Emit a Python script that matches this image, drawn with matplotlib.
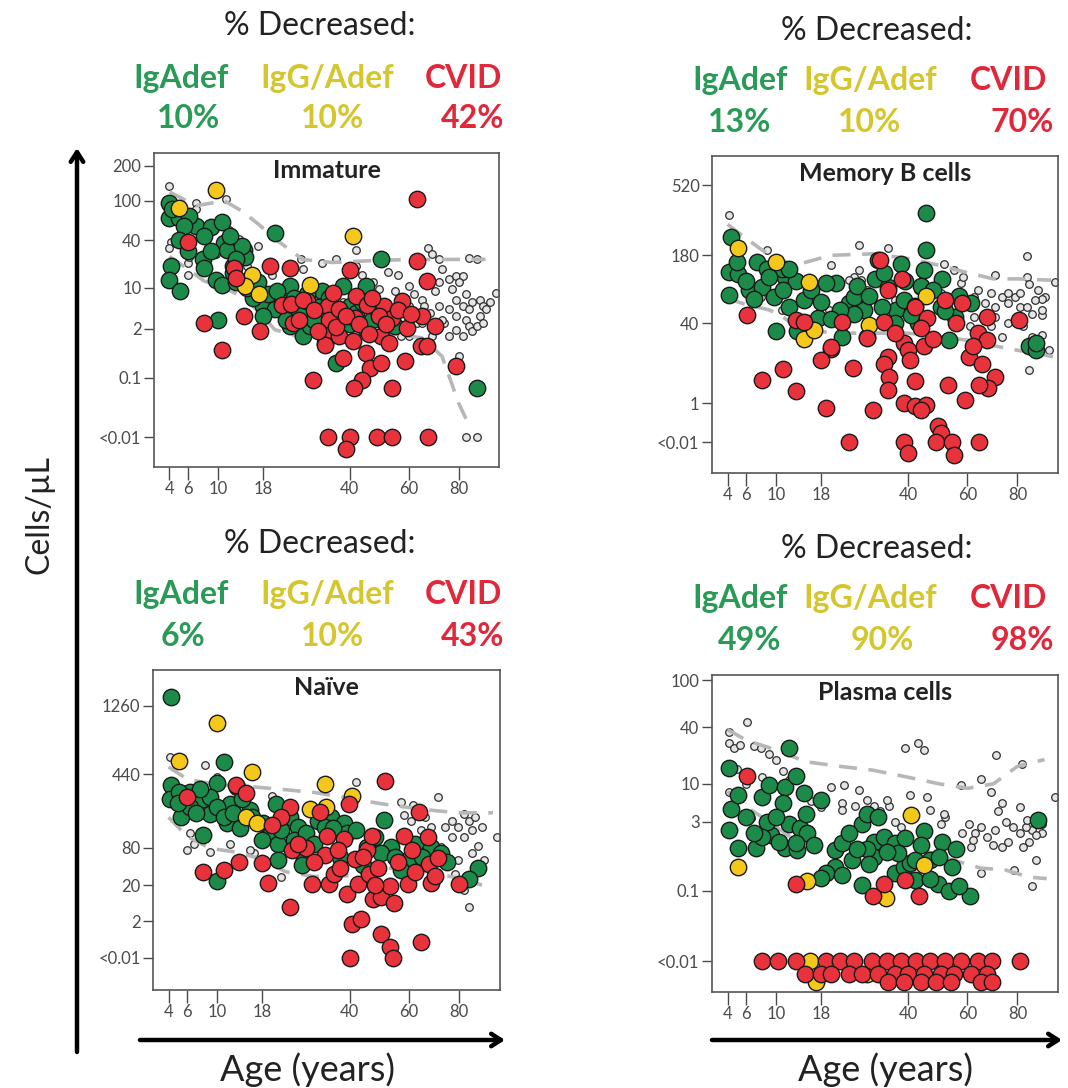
import numpy as np
import matplotlib.pyplot as plt

W, H = 1068, 1088
plt.rcParams['font.family'] = ['Lato', 'DejaVu Sans']

# ---------------- data: (age in years, cells/uL) ----------------
# values below detection are drawn on the "<0.01" row (0, small negative = jitter)

# Immature
imm_ctrl = [(4, 135), (4.1, 38), (4, 33), (7, 95), (7, 83), (6, 21.5), (6, 15), (6.1, 26), (11.2, 103),
            (11.8, 52), (9.7, 28), (12.4, 44), (13.5, 41), (17, 35), (26.5, 24), (27, 18), (32, 22), (36, 24),
            (42, 31), (42, 20), (44, 15), (47.5, 12), (49.5, 9.5), (52.5, 16.5), (56, 15), (55, 9), (60, 10.5),
            (60, 5.2), (65, 6.5), (67.5, 33), (69, 28), (72, 24), (73, 18), (72, 12), (70, 9), (72, 5.2),
            (76, 13.5), (77, 9.5), (79, 14.5), (82, 14.5), (80, 12), (83, 8), (86, 6), (89.5, 6.5), (91, 5.2),
            (79, 6.5), (82, 5.2), (84.5, 4.6), (83, 3), (84.5, 2.3), (86, 1.8), (82, 1.4), (89.5, 3.5), (88, 2.3),
            (79, 3.5), (76, 4.6), (74, 2.6), (97, 8.5), (84.5, 25), (88, 24), (83, 0), (88, 0), (80, 0.47),
            (69, 1.4), (63, 2.6), (57, 1.4), (52.5, 1.94), (65, 2.6), (73, 3), (66, 5.2), (91, 2.6), (92, 4.6),
            (94, 6), (60, 1.4), (76, 1.4), (79, 1.9), (30, 8), (38, 6), (45, 8), (50, 5), (55, 4), (62, 8),
            (68, 4), (35, 3), (28, 12), (20, 15), (15, 20)]
imm_igadef = [(4, 96), (4, 69), (5, 69), (4.1, 20), (4, 13), (5.05, 9), (7, 57), (9, 55), (10.7, 62), (11, 37),
              (7.8, 24), (8, 19), (9.7, 13), (10.7, 11), (12.4, 16), (11.5, 31), (14.3, 31), (14.6, 26), (10, 3.0),
              (20.5, 48), (18, 5.2), (20.5, 4.6), (24, 10.6), (27, 1.4), (32, 9), (38, 10.6), (40, 5.2), (45, 2.0),
              (50, 24), (36, 0.3), (45, 10.6), (88, 0.04), (29, 2.3), (24, 2.3), (18, 3.5), (12.4, 19.7), (14, 35),
              (13, 24), (4.2, 83), (6.1, 72), (5.5, 57), (22, 6), (26, 4), (30, 3), (34, 7), (42, 4), (47, 3),
              (52, 2.5), (33, 1.0), (28, 8), (19, 8), (16, 7), (15, 10), (5, 40), (6, 30), (8, 45), (9, 30),
              (12, 45), (13, 12), (16, 14), (17, 12), (21, 9), (25, 7), (23, 3), (31, 5), (36, 4), (44, 6),
              (48, 5), (55, 2.3), (40, 2.5)]
imm_iggadef = [(5, 85), (9.7, 126), (15.8, 15.4), (14.6, 10.6), (17.2, 8), (29, 10.9), (41, 45)]
imm_cvid = [(6, 38), (12.6, 19), (13, 14), (8, 2.6), (10.7, 0.69), (14.3, 3.5), (19.5, 19.7), (24, 19), (22, 5.5),
            (24.7, 2.6), (17.5, 1.8), (28, 6.3), (29.8, 0.084), (33.7, 5.2), (34, 3.0), (32.5, 1.5), (33, 0.91),
            (38, 0.42), (40, 17.9), (42, 7.5), (45.5, 5.5), (41.7, 3.25), (45, 0.57), (46.5, 0.21), (44, 0.084),
            (41.5, 0.038), (50, 0.3), (54, 0.038), (51, 5.2), (54, 3.25), (57.5, 6.3), (59.5, 2.1), (58.5, 0.34),
            (63, 103), (63, 22.8), (67, 12.5), (65, 3.5), (64.5, 0.84), (67, 0.84), (70, 2.26), (79, 0.24),
            (50, 1.41), (35, 8.4), (24.2, 5.6), (27, 6.6), (37, 4.6), (49.5, 3.5), (37, 1.41),
            (26, 3), (30, 4.5), (36, 2.2), (39, 3.5), (43, 2.5), (46, 1.6), (52, 2.5), (56, 4.5), (61, 3.8),
            (31, 1.8), (41, 1.1), (47, 7), (53, 1.0),
            (33.7, 0), (40, 0), (39, -4e-5), (48.7, 0), (54, 0), (67.5, 0)]
imm_upper = [(4, 120), (7, 90), (11, 100), (14, 80), (17, 60), (21, 40), (27, 24), (35, 22), (45, 23), (60, 24),
             (75, 24), (92, 24)]
imm_lower = [(4, 26), (6, 18), (8, 12.6), (11, 10), (14.6, 7), (18, 3.5), (20.5, 1.94), (27, 1.3), (40, 1.4),
             (52, 1.7), (65, 1.3), (73, 0.47), (80, 0.0062), (85, 0.00001)]

# Memory B cells
mem_ctrl = [(4.1, 344), (8.7, 197), (20, 150), (26.5, 215), (34.2, 205), (26.5, 138), (27, 113), (84, 178),
            (97, 107), (92, 78), (70.5, 124), (84, 120), (85, 103), (89, 91), (91, 75), (79, 78), (73.5, 78),
            (69, 85), (66.5, 67), (70.5, 62), (76, 67), (81, 62), (84, 62), (86.5, 52), (91, 50), (82.5, 37),
            (86.5, 27), (91, 28), (85, 7.6), (73.5, 27), (69, 37), (64, 91), (57.5, 105), (55, 137), (51.5, 155),
            (58.5, 120), (28.5, 91), (32.5, 110), (40, 105), (43, 91), (36, 73), (25.3, 120), (24.2, 113),
            (5, 170), (7.8, 78), (10.9, 57), (19.7, 57), (22.5, 40), (62.5, 48), (61, 37), (76, 40), (94, 17),
            (66.5, 48), (70.5, 48), (76, 85), (81, 85), (87.5, 73), (91, 57), (62.5, 78), (53.5, 78), (50.5, 85)]
mem_igadef = [(4.3, 245), (4.1, 133), (5.1, 127), (4.1, 82), (6.3, 91), (7.3, 160), (8, 97), (9.7, 78),
              (11.4, 120), (10, 32), (13.2, 110), (12, 62), (14.6, 73), (13.5, 32), (15.3, 40), (17.3, 46),
              (21.2, 105), (24.2, 67), (27.7, 57), (25.3, 52), (28.5, 27), (31.5, 165), (30.5, 115), (34.2, 97),
              (37.8, 155), (36.5, 57), (38.8, 73), (45.5, 353), (45.5, 197), (45, 137), (50.8, 115), (50.5, 61),
              (42, 63), (55.5, 48), (53.5, 24), (61.5, 67), (85, 20), (88, 17), (88, 21.7), (8.7, 140),
              (10.9, 140), (19, 105), (22, 57), (25.3, 78), (32.5, 62), (22.5, 27), (43, 40), (36, 40),
              (5, 160), (6, 110), (7, 75), (9, 120), (11, 90), (12, 140), (16, 90), (18, 70), (20, 45), (26, 100),
              (29, 80), (33, 130), (39, 110), (44, 100), (48, 90), (52, 55), (57, 80), (41, 50)]
mem_iggadef = [(5.1, 203), (10, 160), (15.6, 107), (14.6, 25), (16.5, 33), (29, 38), (45.5, 79)]
mem_cvid = [(6.1, 50), (13.2, 44), (14.6, 42), (20, 18), (22.5, 42), (18, 11.6), (20, 19), (8, 4.6), (11, 7.9),
            (13.2, 2.4), (19, 0.65), (25, 8.2), (24, 0), (30, 0.53), (32, 165), (34.2, 91), (38.3, 115), (33, 42),
            (28.5, 26), (42, 61), (46, 46), (52, 73), (58, 67), (34.2, 13.4), (33, 10), (34.5, 5.3), (34.2, 2.6),
            (38.8, 21.7), (40, 17.2), (40.5, 11.6), (45, 19.5), (42, 4.5), (38.8, 1), (42, 0.8), (45.5, 0.85),
            (44, 0.53), (49.5, 0.05), (50.5, 0.01), (49, 0), (54.5, 0), (55, -0.02), (38.8, 0), (40, -0.012),
            (64.5, 0), (53, 3.5), (59, 1.3), (60.5, 13.4), (64, 30), (67.5, 48), (67.5, 24), (65.5, 10),
            (70.5, 5.5), (68, 2.9), (64.5, 3.5), (80.5, 44), (36, 30), (44, 35), (48, 25), (56, 40), (62, 20)]
mem_upper = [(4, 300), (6, 240), (9, 180), (13, 150), (20, 180), (30, 185), (40, 170), (50, 150), (60, 130),
             (70, 115), (80, 115), (95, 112)]
mem_lower = [(4, 75), (6, 65), (9, 57), (11, 48), (14, 33), (22, 30), (30, 30), (40, 30), (50, 27), (60, 24),
             (70, 20), (80, 17), (96, 13.4)]

# Naive
nai_ctrl = [(4.1, 590), (8.3, 515), (9.9, 419), (6.3, 120), (6, 74), (6.8, 90), (9, 70), (12, 90), (16.3, 67),
            (20, 290), (42, 380), (57, 255), (71, 284), (82, 195), (84, 165), (85.5, 131), (79.5, 143), (77, 110),
            (82, 110), (88, 85), (91, 53), (97, 110), (85.5, 67), (79.5, 53), (78, 32), (84, 6.2), (82, 15.8),
            (77, 165), (74, 143), (68.5, 143), (64.5, 131), (60.5, 165), (58, 190), (61.5, 240), (66, 182),
            (67, 67), (72.5, 82), (87, 182), (90, 143), (22, 28.7), (15.6, 74), (26, 120)]
nai_igadef = [(4.2, 1418), (4.2, 360), (4.1, 270), (5.3, 182), (6.3, 310), (8, 270), (9, 195), (8, 115), (11, 540),
              (9.9, 370), (12, 246), (11.5, 155), (13.8, 140), (9.9, 24), (18.2, 155), (20.8, 246), (24, 182),
              (26, 143), (27.5, 53), (26.8, 45), (31, 165), (34.5, 182), (38.3, 155), (39.3, 120), (45.5, 82),
              (51, 170), (53.5, 82), (50, 67), (59.5, 53), (57, 37), (68.5, 82), (72.5, 67), (88, 41), (84, 26),
              (5.1, 310), (6.3, 230), (9, 283), (13.2, 345), (15.6, 212), (19.7, 120), (21.2, 90), (33, 143),
              (44, 45), (21.2, 53), (5, 250), (7, 200), (7.5, 330), (10, 230), (11, 180), (12.5, 200), (14, 270),
              (16, 180), (18, 100), (22, 130), (25, 100), (28, 120), (30, 90), (35, 140), (37, 60), (42, 130),
              (48, 110), (55, 60), (62, 90), (65, 60), (75, 50)]
nai_iggadef = [(5.1, 555), (9.9, 991), (16, 460), (14.8, 182), (17, 155), (33, 369), (29, 220), (33.3, 230),
               (40.8, 290)]
nai_cvid = [(6, 283), (13, 360), (14.8, 305), (8, 35), (11, 37), (13.5, 50), (18, 48), (19.2, 22.5), (24, 230),
            (22, 182), (20, 150), (24.5, 74), (28, 78), (31.5, 205), (33.5, 112), (33, 64), (38.3, 104), (36.5, 74),
            (41.5, 56), (45.5, 74), (47, 112), (39.8, 246), (51.5, 385), (29.5, 21), (34, 21), (39.3, 13),
            (42.5, 21), (35.5, 32), (46, 32), (47.2, 10), (50, 11), (53, 19.5), (54.5, 7.6), (59.5, 21), (58, 112),
            (61, 74), (63.5, 205), (67, 110), (68.5, 21.6), (67.5, 46), (71, 57), (80, 21), (24, 6.2), (40.8, 1.5),
            (43.5, 2.5), (50, 0.5), (53, 0.04), (54, 0), (64.5, 0.13), (40, 0),
            (26, 90), (30, 50), (37, 40), (44, 60), (49, 40), (56, 50), (62, 35), (70, 30), (48, 20)]
nai_upper = [(4, 500), (6, 400), (10, 360), (15, 350), (22, 330), (30, 310), (40, 275), (50, 245), (60, 225),
             (70, 210), (80, 200), (95, 200)]
nai_lower = [(4, 180), (6, 110), (9, 78), (13, 70), (18, 55), (23, 35), (30, 29), (40, 30), (50, 40), (60, 40),
             (70, 33), (80, 27), (90, 20)]

# Plasma cells
pla_ctrl = [(4.1, 36), (4.1, 28), (4.6, 25), (6.1, 45), (5.3, 27), (7, 26), (7.8, 25), (9, 22), (10, 19),
            (4.1, 7.8), (6.6, 3.4), (20, 9.2), (23, 9.7), (26.5, 8.3), (22.5, 5.6), (25.5, 5.1), (30.4, 5.1),
            (32, 4.3), (34.5, 5.1), (39.2, 25), (43, 28), (45, 24), (40.5, 7.2), (46, 6.8), (47, 4.47), (52, 3.6),
            (57.5, 9.7), (65, 11.6), (71, 21), (82, 17), (97, 6.8), (69, 7.9), (73.5, 5.6), (72, 4.3), (81, 4.9),
            (60.5, 2.8), (63, 2), (67.5, 1.7), (70.5, 2.2), (76, 1.4), (81, 2), (85, 1.4), (86.5, 2.2), (82.5, 1.1),
            (88, 0.6), (86.5, 0.14), (65, 0.3), (78.5, 0.36), (58, 2), (55, 1.1), (61.5, 1.1), (73.5, 1.1), (91, 2),
            (65, 2.5), (83.5, 2.5), (91, 2.82), (22.5, 4.5), (28.5, 6.2), (34, 6.2), (50.5, 2.8), (51.5, 3.9),
            (5, 15), (6, 10), (8, 12), (11, 14), (12, 11), (14, 8), (16, 6), (18, 5), (36, 3), (38, 2.5), (75, 3),
            (78, 2.5), (84, 3.2), (88, 1.8), (70, 1.2), (62, 1.5)]
pla_igadef = [(4.1, 15.3), (4.3, 4.7), (4.1, 2.2), (5.1, 1.07), (7.2, 1.07), (5.1, 7.2), (8, 6.8), (9, 9.6),
              (11.4, 9.1), (11.1, 5.6), (12, 25), (13.2, 12.5), (9.2, 1.8), (11.4, 1.07), (12, 2.82), (14, 2.4),
              (13.5, 0.96), (8.7, 3.0), (8, 1.69), (15.3, 2), (14.6, 7.6), (18, 6.2), (21, 0.96), (22.5, 1.3),
              (21, 0.42), (19, 0.3), (18, 0.23), (22.5, 0.28), (24.8, 0.6), (27.2, 0.15), (27.2, 2.8), (28.5, 4.0),
              (30.4, 1.35), (31.5, 3.6), (30.4, 0.7), (33, 1.69), (36, 1.3), (36, 0.3), (38.8, 0.42), (40.5, 0.51),
              (42, 0.6), (45, 2.1), (47, 0.6), (49.5, 0.16), (53.5, 0.1), (61, 0.07), (54.5, 0.42), (51, 1.35),
              (89, 3.2), (13.2, 1.3), (28.5, 1.0), (37, 0.85), (42, 0.2), (47, 0.22), (6, 3.5), (7, 2),
              (10, 3.5), (10.5, 1.4), (15, 4), (16.5, 1.2), (24, 2), (26, 1.0), (29, 0.5), (34, 0.9), (39, 1.6),
              (44, 1.2), (50, 0.7), (56, 1.0), (57, 0.14)]
pla_iggadef = [(5.1, 0.42), (15.3, 0.19), (33.5, 0.06), (41, 3.8), (45, 0.48), (15.8, 0), (17, -2e-4),
               (28.5, -1.6e-5)]
pla_cvid = [(6.1, 12.5), (13.2, 0.16), (30, 0.07), (33, 0.16), (39.2, 0.2), (43.5, 0.07),
            (8, 0), (10.3, 0), (13.2, 0), (19, 0), (22, 0), (25.3, 0), (29.7, 0), (34, 0), (37.8, 0), (42.5, 0),
            (47, 0), (52, 0), (57.5, 0), (64, 0), (69.5, 0), (81, 0),
            (14.8, -1.6e-5), (18, -1.6e-5), (20, -1.6e-5), (24, -1.6e-5), (27.2, -1.6e-5), (31.5, -1.6e-5),
            (36, -1.6e-5), (40, -1.6e-5), (45, -1.6e-5), (50.5, -1.6e-5), (55, -1.6e-5), (61.5, -1.6e-5),
            (67.5, -1.6e-5),
            (34.2, -2e-4), (38.8, -2e-4), (44, -2e-4), (49, -2e-4), (54, -2e-4), (65, -2e-4), (69.5, -2e-4)]
pla_upper = [(4, 38), (6, 30), (10, 24), (15, 18), (22, 16), (30, 14.5), (40, 12), (50, 10), (60, 8.8), (70, 10),
             (80, 16), (92, 19)]
pla_lower = [(4, 8), (6, 5), (9, 3), (13, 1.5), (18, 1.2), (25, 1.1), (35, 1.0), (45, 0.95), (55, 0.6), (65, 0.4),
             (75, 0.36), (85, 0.24), (93, 0.22)]

# header percentages
pct = {
    'Immature': ('10%', '10%', '42%'),
    'Memory B cells': ('13%', '10%', '70%'),
    'Naïve': ('6%', '10%', '43%'),
    'Plasma cells': ('49%', '90%', '98%'),
}

GREEN, YELLOW, RED = '#1c8a48', '#f4c81a', '#e8323c'
TXT_G, TXT_Y, TXT_R = '#2a9a57', '#d4c62c', '#e0283a'
DASH = '#b7b7b7'
TICKC = '#4a4a4a'


def xy(pairs):
    a = np.array(pairs, dtype=float)
    return a[:, 0], a[:, 1]


def panel(rect_px, title, power, ulim, yticks, ylabels, ctrl, g, y, r, upper, lower):
    x0, y0, x1, y1 = rect_px
    ax = fig.add_axes([x0 / W, 1 - y1 / H, (x1 - x0) / W, (y1 - y0) / H])
    fwd = lambda v: np.sign(v) * np.abs(v) ** power
    inv = lambda u: np.sign(u) * np.abs(u) ** (1.0 / power)
    ax.set_xscale('function', functions=(lambda a: np.sqrt(np.clip(a, 0, None)), lambda s: np.square(s)))
    ax.set_yscale('function', functions=(fwd, inv))

    cx, cy = xy(ctrl)
    ax.scatter(cx, cy, s=30, facecolor='#e6e6e6', edgecolor='#2e2e2e', linewidth=0.9, zorder=2)
    for line in (upper, lower):
        lx, ly = xy(line)
        ax.plot(lx, ly, color=DASH, lw=2.6, ls=(0, (5, 3.2)), zorder=3)
    for pts, col in ((g, GREEN), (y, YELLOW), (r, RED)):
        px, py = xy(pts)
        ax.scatter(px, py, s=140, facecolor=col, edgecolor='#1a1a1a', linewidth=1.0, zorder=4)

    ax.set_xlim(2.65, 98.3)
    ax.set_ylim(inv(ulim[0]), inv(ulim[1]))
    ax.set_xticks([4, 6, 10, 18, 40, 60, 80])
    ax.set_xticklabels(['4', '6', '10', '18', '40', '60', '80'])
    ax.set_yticks(yticks)
    ax.set_yticklabels(ylabels)
    ax.tick_params(colors=TICKC, labelsize=12, length=7, width=1.0, direction='out', pad=2)
    ax.tick_params(axis='x', length=9, pad=1)
    for sp in ax.spines.values():
        sp.set_color('#555555')
        sp.set_linewidth(1.2)
    ax.annotate(title, xy=(0.5, 1), xycoords='axes fraction', xytext=(0, -18), textcoords='offset points',
                ha='center', va='baseline', fontsize=18, fontweight='bold', color='#222222')
    return ax


def header(title, cx_title, y_title, names_x, pct_x, y_names, y_pct):
    fig.text(cx_title / W, 1 - y_title / H, '% Decreased:', ha='center', va='baseline', fontsize=23,
             color='#222222')
    labels = ('IgAdef', 'IgG/Adef', 'CVID')
    for lab, nx, px, val, col in zip(labels, names_x, pct_x, pct[title], (TXT_G, TXT_Y, TXT_R)):
        fig.text(nx / W, 1 - y_names / H, lab, ha='center', va='baseline', fontsize=23,
                 fontweight='bold', color=col)
        fig.text(px / W, 1 - y_pct / H, val, ha='center', va='baseline', fontsize=23,
                 fontweight='bold', color=col)


fig = plt.figure(figsize=(W / 100, H / 100), dpi=100)

panel((154, 153, 499, 467), 'Immature', 0.2, (-0.319, 3.02),
      [0, 0.1, 2, 10, 40, 100, 200], ['<0.01', '0.1', '2', '10', '40', '100', '200'],
      imm_ctrl, imm_igadef, imm_iggadef, imm_cvid, imm_upper, imm_lower)
panel((712, 156, 1058, 473), 'Memory B cells', 0.3, (-0.775, 7.27),
      [0, 1, 40, 180, 520], ['<0.01', '1', '40', '180', '520'],
      mem_ctrl, mem_igadef, mem_iggadef, mem_cvid, mem_upper, mem_lower)
panel((153, 670, 500, 990), 'Naïve', 0.3, (-1.09, 9.73),
      [0, 2, 20, 80, 440, 1260], ['<0.01', '2', '20', '80', '440', '1260'],
      nai_ctrl, nai_igadef, nai_iggadef, nai_cvid, nai_upper, nai_lower)
panel((712, 675, 1058, 992), 'Plasma cells', 0.2, (-0.274, 2.557),
      [0, 0.1, 3, 10, 40, 100], ['<0.01', '0.1', '3', '10', '40', '100'],
      pla_ctrl, pla_igadef, pla_iggadef, pla_cvid, pla_upper, pla_lower)

header('Immature', 320, 35, (181, 327, 463), (189, 333, 473), 88, 128)
header('Memory B cells', 877, 40, (740, 870, 1008), (740, 870, 1022), 90, 132)
header('Naïve', 320, 553, (181, 327, 463), (183, 333, 473), 604, 646)
header('Plasma cells', 877, 558, (740, 870, 1008), (750, 882, 1022), 608, 650)

# arrows and axis titles drawn in figure pixel space
ov = fig.add_axes([0, 0, 1, 1], zorder=-1)
ov.set_xlim(0, W)
ov.set_ylim(H, 0)
ov.axis('off')
arrow = dict(arrowstyle='->,head_length=0.7,head_width=0.45', lw=3.2, color='black', shrinkA=0, shrinkB=0)
ov.annotate('', xy=(77, 148), xytext=(77, 1052), arrowprops=arrow)
ov.annotate('', xy=(505, 1040), xytext=(140, 1040), arrowprops=arrow)
ov.annotate('', xy=(1062, 1040), xytext=(712, 1040), arrowprops=arrow)
ov.text(40, 515, 'Cells/µL', rotation=90, ha='center', va='center', fontsize=23, color='#222222')
ov.text(307, 1070, 'Age (years)', ha='center', va='center', fontsize=26, color='#222222')
ov.text(885, 1070, 'Age (years)', ha='center', va='center', fontsize=26, color='#222222')

fig.savefig('out.png', dpi=100)
